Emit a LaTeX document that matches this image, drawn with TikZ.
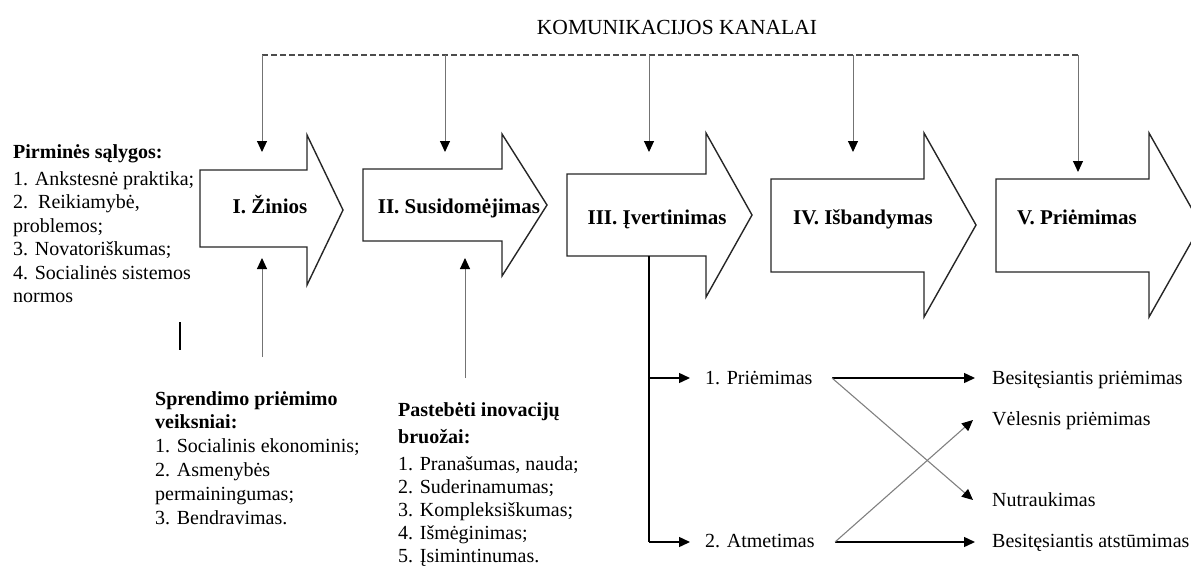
\documentclass[tikz,border=0pt]{standalone}
\usepackage{fontspec}
\setmainfont{Liberation Serif}
\usetikzlibrary{arrows.meta,calc}
\begin{document}
\begin{tikzpicture}[x=1pt,y=-1pt,
  stage/.style={draw=black!85,line width=1.4pt,fill=white,line join=miter},
  stagelabel/.style={font=\fontsize{21}{24}\selectfont\bfseries,inner sep=0,anchor=base},
  txt/.style={font=\fontsize{20}{23.5}\selectfont,inner sep=0,anchor=base west},
  title/.style={font=\fontsize{21.5}{24}\selectfont,inner sep=0,anchor=base},
  tip/.style={-{Triangle[length=11pt,width=10pt,color=black]}},
  bus/.style={draw=black!70,line width=1.2pt,dash pattern=on 6pt off 3pt},
  feed/.style={tip,draw=black!55,line width=1pt},
  flow/.style={tip,draw=black,line width=1.4pt},
  cross/.style={tip,draw=black!50,line width=1.1pt}
]
\useasboundingbox (0,0) rectangle (1191,568);

% stage arrows: left / top / bottom / head base / head top / head bottom / tip x / tip y
\foreach \n/\L/\T/\B/\H/\HT/\HB/\X/\Y in {
  1/200/170/247/307/135/285/343/210,
  2/363/169/241/502/134/276/547/205,
  3/567/174/256/706/133/297/752/215,
  4/771/179/272/924/133/317/976/225,
  5/996/179/272/1149/133/317/1201/225}
  \draw[stage] (\L,\T) -- (\H,\T) -- (\H,\HT) -- (\X,\Y) -- (\H,\HB) -- (\H,\B) -- (\L,\B) -- cycle;

\node[stagelabel] (s1) at (270,213) {I. Žinios};
\node[stagelabel] (s2) at (459,213) {II. Susidomėjimas};
\node[stagelabel] (s3) at (657,224) {III. Įvertinimas};
\node[stagelabel] (s4) at (863,224) {IV. Išbandymas};
\node[stagelabel] (s5) at (1077,224) {V. Priėmimas};

% communication channels
\node[title] (kanalai) at (677,34) {KOMUNIKACIJOS KANALAI};
\coordinate (k1) at (262,55);
\coordinate (k2) at (445,55);
\coordinate (k3) at (649,55);
\coordinate (k4) at (853,55);
\coordinate (k5) at (1078,55);
\coordinate (in1) at (262,152);
\coordinate (in2) at (445,152);
\coordinate (in3) at (649,152);
\coordinate (in4) at (853,152);
\coordinate (in5) at (1078,172);
\draw[bus] (k1) -- (k5);
\foreach \i in {1,...,5} \draw[feed] (k\i) -- (in\i);

% preconditions
\node[txt] (pirm) at (13,158) {\begin{tabular}[t]{@{}l@{}}
  \textbf{Pirminės sąlygos:}\\[3.5pt]
  1. Ankstesnė praktika;\\
  2.\ \ Reikiamybė,\\
  problemos;\\
  3. Novatoriškumas;\\
  4. Socialinės sistemos\\
  normos
\end{tabular}};
\draw[line width=2.6pt] (180,322) -- (180,350);

% decision factors
\node[txt,font=\fontsize{20}{23.8}\selectfont] (sprend) at (155,405) {\begin{tabular}[t]{@{}l@{}}
  \textbf{Sprendimo priėmimo}\\
  \textbf{veiksniai:}\\
  1. Socialinis ekonominis;\\
  2. Asmenybės\\
  permainingumas;\\
  3. Bendravimas.
\end{tabular}};
\coordinate (u1) at (262,357);
\coordinate (u1t) at (262,258);
\draw[feed] (u1) -- (u1t);

% perceived innovation features
\node[txt,font=\fontsize{20}{23}\selectfont] (past) at (398,416) {\begin{tabular}[t]{@{}l@{}}
  \textbf{Pastebėti inovacijų}\\[4pt]
  \textbf{bruožai:}\\[4pt]
  1. Pranašumas, nauda;\\
  2. Suderinamumas;\\
  3. Kompleksiškumas;\\
  4. Išmėginimas;\\
  5. Įsimintinumas.
\end{tabular}};
\coordinate (u2) at (465,378);
\coordinate (u2t) at (465,258);
\draw[feed] (u2) -- (u2t);

% outcomes of the evaluation
\node[txt] (p1) at (705,384) {1. Priėmimas};
\node[txt] (p2) at (705,547) {2. Atmetimas};
\node[txt] (r1) at (992,384) {Besitęsiantis priėmimas};
\node[txt] (r2) at (992,425) {Vėlesnis priėmimas};
\node[txt] (r3) at (992,506) {Nutraukimas};
\node[txt] (r4) at (992,547) {Besitęsiantis atstūmimas};

\coordinate (s3b) at (649,256);
\coordinate (j1) at (649,378);
\coordinate (j2) at (649,542);
\draw[black,line width=1.4pt] (s3b) -- (j2);
\draw[flow] (j1) -- ($(p1.base west)+(-15,-6)$);
\draw[flow] (j2) -- ($(p2.base west)+(-15,-5)$);

\coordinate (p1o) at (832,378);
\coordinate (p2o) at (835,542);
\draw[flow] (p1o) -- ($(r1.base west)+(-17,-6)$);
\draw[flow] (p2o) -- ($(r4.base west)+(-17,-5)$);
\draw[cross] (p1o) -- ($(r3.base west)+(-19,-6)$);
\draw[cross] (p2o) -- ($(r2.base west)+(-19,-5)$);
\end{tikzpicture}
\end{document}
